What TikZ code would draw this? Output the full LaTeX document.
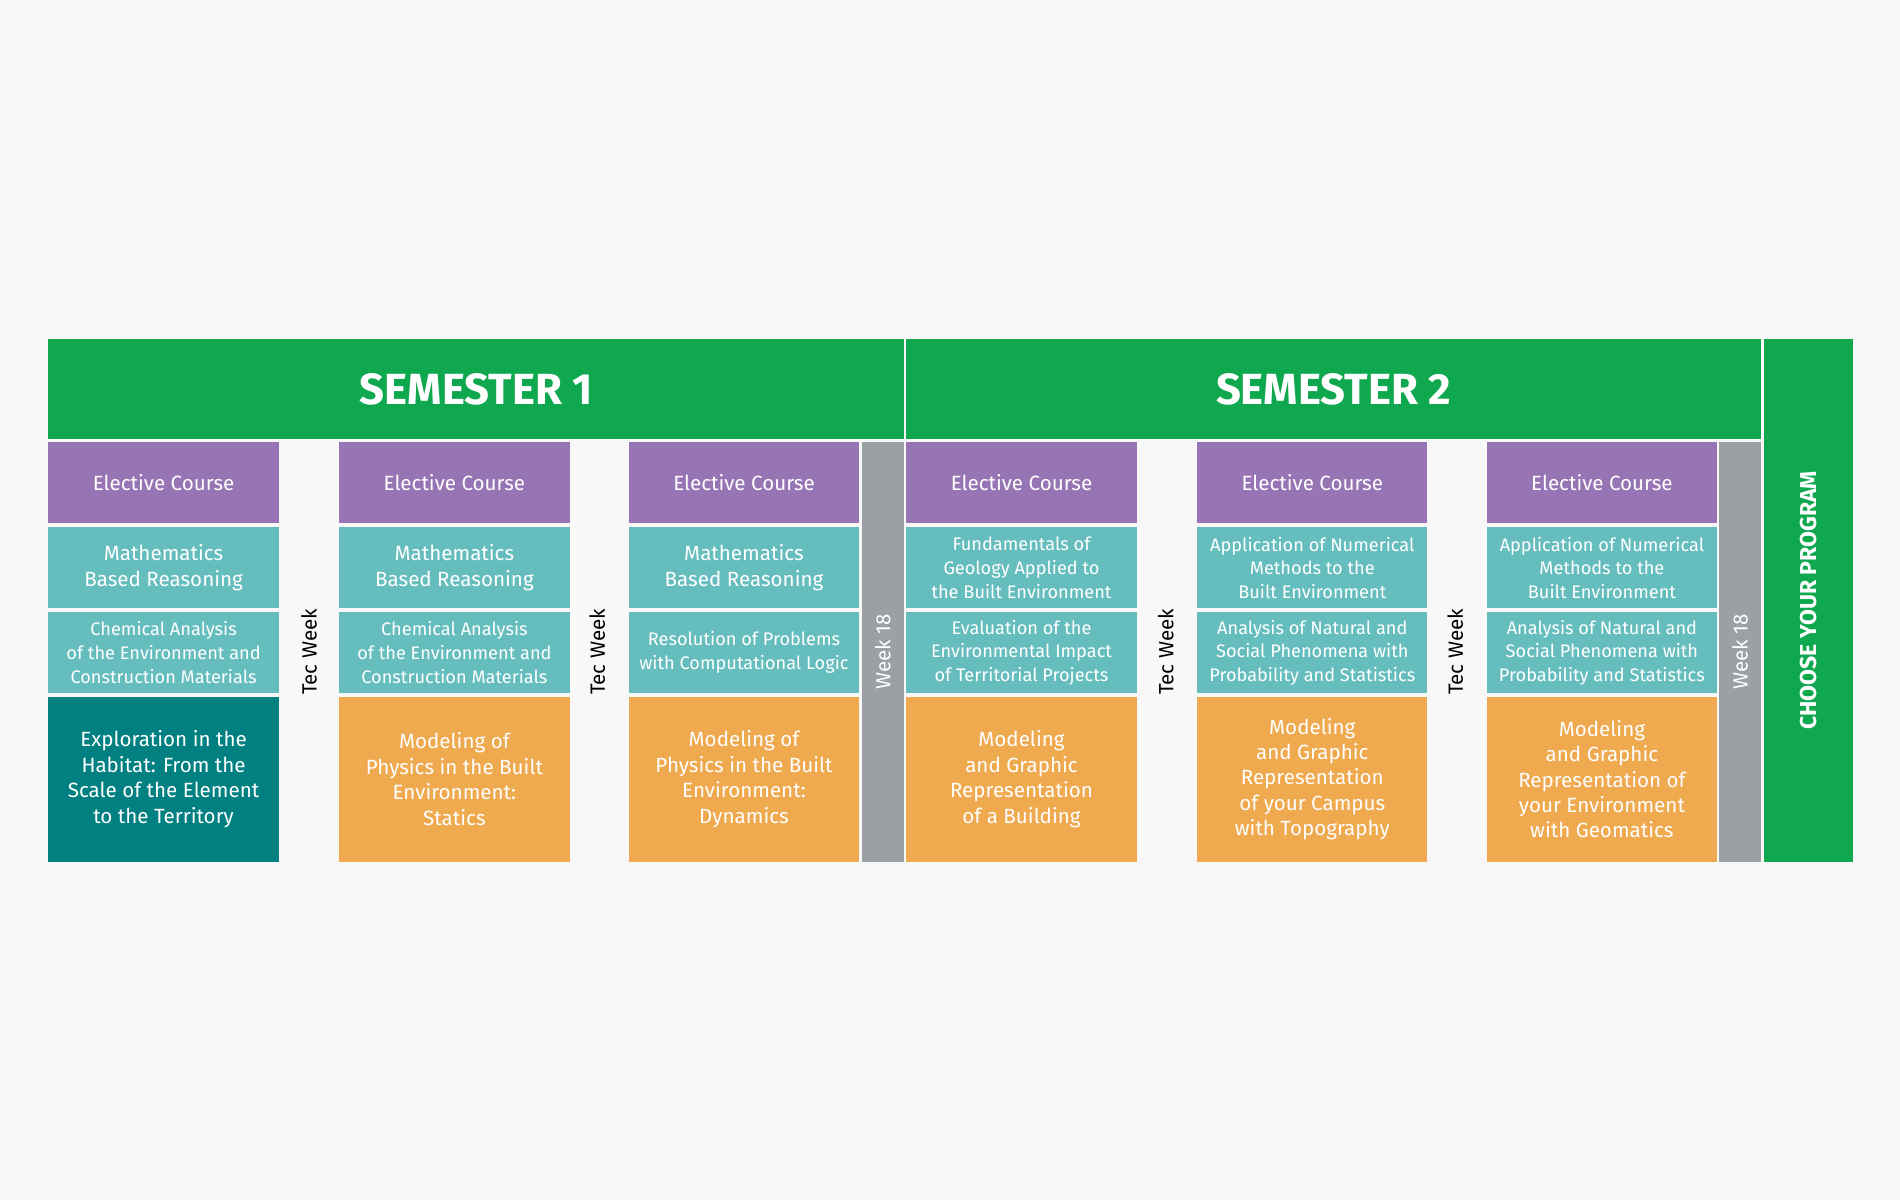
\documentclass[tikz,border=0pt]{standalone}
\usepackage{fontspec}
\setmainfont{Fira Sans}
\definecolor{semgreen}{HTML}{10A84F}
\definecolor{elecpurple}{HTML}{9775B4}
\definecolor{coreteal}{HTML}{66BDBD}
\definecolor{projorange}{HTML}{EFA94F}
\definecolor{darkteal}{HTML}{008080}
\definecolor{weekgray}{HTML}{9AA0A3}
\definecolor{bgwhite}{HTML}{F8F8F8}
\begin{document}
\begin{tikzpicture}[x=1pt, y=-1pt,
    box/.style = {inner sep=0pt, text=white, align=center, font=\fontsize{17}{21}\selectfont},
    small/.style = {box, font=\fontsize{15}{19.5}\selectfont},
    vlabel/.style = {rotate=90, font=\fontsize{17}{21}\selectfont}]

    \fill[bgwhite] (0,0) rectangle (1568,990);

    % cell: name, x, y of top left corner, width, height, colour, style, text
    \newcommand{\cell}[8]{%
      \fill[#6] (#2,#3) rectangle ++(#4,#5);
      \node[#7] (#1) at (#2+#4/2,#3+#5/2) {#8};}

    %--------------------------------------------

    \cell{sa}{40}{280}{706}{82}{semgreen}{box, font=\fontsize{36}{40}\bfseries}{SEMESTER 1}
    \cell{sb}{748}{280}{705}{82}{semgreen}{box, font=\fontsize{36}{40}\bfseries}{SEMESTER 2}
    \cell{cp}{1456}{280}{73}{431}{semgreen}{box, rotate=90, font=\fontsize{19}{22}\bfseries}{CHOOSE YOUR PROGRAM}
    \cell{wa}{711}{365}{35}{346}{weekgray}{box, rotate=90}{Week 18}
    \cell{wb}{1419}{365}{34}{346}{weekgray}{box, rotate=90}{Week 18}

    %--------------------------------------------

    \foreach \x/\n in {40/1, 280/2, 519/3, 748/4, 988/5, 1227/6} {
      \cell{e\n}{\x}{365}{190}{67}{elecpurple}{box}{Elective Course}
    }

    \cell{m1}{40}{435}{190}{67}{coreteal}{box}{Mathematics\\Based Reasoning}
    \cell{m2}{280}{435}{190}{67}{coreteal}{box}{Mathematics\\Based Reasoning}
    \cell{m3}{519}{435}{190}{67}{coreteal}{box}{Mathematics\\Based Reasoning}
    \cell{m4}{748}{435}{190}{67}{coreteal}{small}{Fundamentals of\\Geology Applied to\\the Built Environment}
    \cell{m5}{988}{435}{190}{67}{coreteal}{small}{Application of Numerical\\Methods to the\\Built Environment}
    \cell{m6}{1227}{435}{190}{67}{coreteal}{small}{Application of Numerical\\Methods to the\\Built Environment}

    \cell{c1}{40}{505}{190}{67}{coreteal}{small}{Chemical Analysis\\of the Environment and\\Construction Materials}
    \cell{c2}{280}{505}{190}{67}{coreteal}{small}{Chemical Analysis\\of the Environment and\\Construction Materials}
    \cell{c3}{519}{505}{190}{67}{coreteal}{small}{Resolution of Problems\\with Computational Logic}
    \cell{c4}{748}{505}{190}{67}{coreteal}{small}{Evaluation of the\\Environmental Impact\\of Territorial Projects}
    \cell{c5}{988}{505}{190}{67}{coreteal}{small}{Analysis of Natural and\\Social Phenomena with\\Probability and Statistics}
    \cell{c6}{1227}{505}{190}{67}{coreteal}{small}{Analysis of Natural and\\Social Phenomena with\\Probability and Statistics}

    \cell{p1}{40}{575}{190}{136}{darkteal}{box}{Exploration in the\\Habitat: From the\\Scale of the Element\\to the Territory}
    \cell{p2}{280}{575}{190}{136}{projorange}{box}{Modeling of\\Physics in the Built\\Environment:\\Statics}
    \cell{p3}{519}{575}{190}{136}{projorange}{box}{Modeling of\\Physics in the Built\\Environment:\\Dynamics}
    \cell{p4}{748}{575}{190}{136}{projorange}{box}{Modeling\\and Graphic\\Representation\\of a Building}
    \cell{p5}{988}{575}{190}{136}{projorange}{box}{Modeling\\and Graphic\\Representation\\of your Campus\\with Topography}
    \cell{p6}{1227}{575}{190}{136}{projorange}{box}{Modeling\\and Graphic\\Representation of\\your Environment\\with Geomatics}

    %--------------------------------------------

    \foreach \x/\n in {255/a, 493/b, 962/c, 1201/d} {
      \node[vlabel] (t\n) at (\x,538) {Tec Week};
    }

\end{tikzpicture}
\end{document}
